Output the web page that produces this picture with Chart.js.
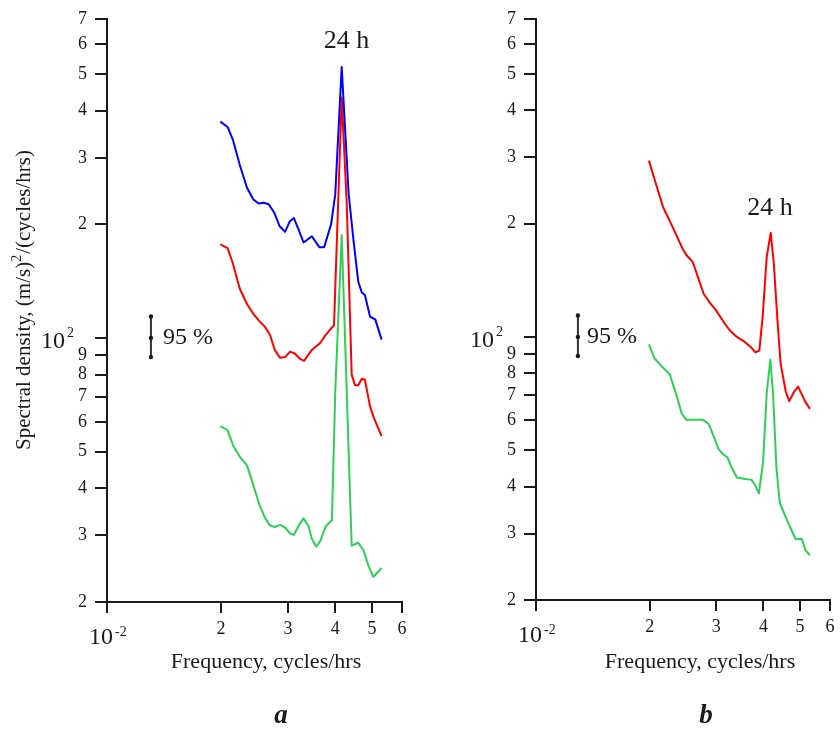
<!DOCTYPE html>
<html>
<head>
<meta charset="utf-8">
<script src="https://cdn.jsdelivr.net/npm/chart.js@4.4.1/dist/chart.umd.min.js"></script>
<style>
  body { margin: 0; background: #fff; }
  .panel { position: absolute; top: 0; }
</style>
</head>
<body>
<canvas id="panel-a" class="panel" width="420" height="730" style="left:0"></canvas>
<canvas id="panel-b" class="panel" width="420" height="730" style="left:420px"></canvas>
<script>
// tick values (log-log axes)
const xTicks = [0.01, 0.02, 0.03, 0.04, 0.05, 0.06]
const yTicks = [20, 30, 40, 50, 60, 70, 80, 90, 100, 200, 300, 400, 500, 600, 700]
const ciBar = [89, 100, 114] // 95 % bar: low, centre, high

// panel a
const freqBlueA = [0.0199, 0.0208, 0.0215, 0.0224, 0.0234, 0.0243, 0.0251, 0.0259, 0.0267, 0.0276, 0.0285, 0.0295, 0.0303, 0.0311, 0.0320, 0.0330, 0.0347, 0.0363, 0.0374, 0.0390, 0.0400, 0.0416, 0.0434, 0.0447, 0.0460, 0.0470, 0.0479, 0.0494, 0.0510, 0.0530]
const blueA = [374, 362, 334, 287, 250, 233, 227, 228, 226, 215, 198, 191, 203, 208, 194, 179, 186, 174, 174, 200, 240, 522, 240, 181, 141, 132, 130, 114, 112, 99]

const freqRedA = [0.0199, 0.0208, 0.0215, 0.0224, 0.0234, 0.0243, 0.0252, 0.0261, 0.0269, 0.0277, 0.0286, 0.0295, 0.0304, 0.0313, 0.0323, 0.0331, 0.0347, 0.0365, 0.0375, 0.0390, 0.0397, 0.0416, 0.0429, 0.0442, 0.0451, 0.0460, 0.0470, 0.0479, 0.0494, 0.0504, 0.0530]
const redA = [177, 173, 157, 135, 123, 116, 111, 107, 102, 93, 88.6, 89, 92, 91, 88, 87, 93, 97, 101, 106, 108, 433, 226, 80, 75, 75, 78, 77.5, 66, 62, 55]

const freqGreenA = [0.0199, 0.0208, 0.0215, 0.0224, 0.0234, 0.0243, 0.0252, 0.0261, 0.0269, 0.0277, 0.0286, 0.0295, 0.0304, 0.0311, 0.0320, 0.0330, 0.0340, 0.0347, 0.0356, 0.0365, 0.0378, 0.0392, 0.0400, 0.0416, 0.0442, 0.0460, 0.0475, 0.0489, 0.0504, 0.0530]
const greenA = [58.4, 57, 52, 48.5, 46, 40.9, 36.3, 33.4, 31.9, 31.6, 32, 31.5, 30.4, 30.1, 31.8, 33.3, 31.8, 29.4, 28, 29, 31.8, 32.9, 71.8, 187.5, 28.2, 28.7, 27.4, 25, 23.3, 24.6]

// panel b
const freqRedB = [0.0199, 0.0206, 0.0217, 0.0231, 0.0244, 0.0250, 0.0260, 0.0269, 0.0278, 0.0289, 0.0299, 0.0313, 0.0326, 0.0340, 0.0357, 0.0370, 0.0381, 0.0390, 0.0398, 0.0408, 0.0418, 0.0426, 0.0435, 0.0444, 0.0458, 0.0468, 0.0481, 0.0494, 0.0515, 0.0531]
const redB = [294, 262, 221, 194, 172, 165, 158, 143, 130, 123, 118, 110, 104, 100, 97, 94, 91, 92, 113, 163, 189, 157, 113, 85, 71.7, 67.5, 71.2, 73.8, 67.5, 64.4]

const freqGreenB = [0.0199, 0.0206, 0.0215, 0.0226, 0.0236, 0.0243, 0.0250, 0.0277, 0.0287, 0.0296, 0.0304, 0.0312, 0.0321, 0.0329, 0.0340, 0.0355, 0.0372, 0.0380, 0.0389, 0.0399, 0.0408, 0.0417, 0.0424, 0.0433, 0.0442, 0.0461, 0.0475, 0.0487, 0.0505, 0.0517, 0.0531]
const greenB = [95.5, 87.6, 83.6, 79.5, 69.5, 62.6, 60.2, 60.2, 58.6, 54.1, 50.4, 48.9, 47.9, 45.1, 42.3, 42, 41.7, 40.4, 38.4, 46.5, 70.9, 87, 70.9, 44.7, 36.2, 32.7, 30.6, 29, 29.1, 27.1, 26.3]

const serif = "'Liberation Serif', 'Times New Roman', serif"
const ink = "#1a1a1a"

function toPoints(freqs, values) {
    return freqs.map((f, i) => ({ x: f, y: values[i] }))
}

// draws "base" with a raised small "exp" after it, left edge at x
function drawPower(ctx, x, baseline, base, exp, baseSize, expSize, rise) {
    ctx.textAlign = "left"
    ctx.textBaseline = "alphabetic"
    ctx.font = `${baseSize}px ${serif}`
    ctx.fillText(base, x, baseline)
    const w = ctx.measureText(base).width
    ctx.font = `${expSize}px ${serif}`
    ctx.fillText(exp, x + w + 2, baseline - rise)
}

const notesPlugin = {
    id: "notes",
    afterDraw(chart, args, opts) {
        const { ctx, chartArea } = chart
        const xs = chart.scales.x
        const ys = chart.scales.y
        ctx.save()
        ctx.fillStyle = ink
        ctx.strokeStyle = "#333"

        // peak label
        ctx.font = `26px ${serif}`
        ctx.textAlign = "center"
        ctx.textBaseline = "middle"
        ctx.fillText("24 h", xs.getPixelForValue(opts.peakLabel[0]), ys.getPixelForValue(opts.peakLabel[1]))

        // 95 % confidence bar
        const bx = xs.getPixelForValue(opts.ciX)
        const [lo, mid, hi] = ciBar.map((v) => ys.getPixelForValue(v))
        ctx.lineWidth = 2
        ctx.beginPath()
        ctx.moveTo(bx, hi)
        ctx.lineTo(bx, lo)
        ctx.stroke()
        for (const py of [lo, mid, hi]) {
            ctx.beginPath()
            ctx.arc(bx, py, 2.2, 0, Math.PI * 2)
            ctx.fill()
        }
        ctx.font = `24px ${serif}`
        ctx.textAlign = "left"
        ctx.fillText("95 %", bx + opts.ciGap, mid)

        // decade labels 10^2 and 10^-2
        drawPower(ctx, chartArea.left - 66, ys.getPixelForValue(100) + 10, "10", "2", 24, 14, 11)
        drawPower(ctx, chartArea.left - 18, chartArea.bottom + 42, "10", "-2", 24, 14, 8)

        // x axis title
        ctx.font = `22px ${serif}`
        ctx.textAlign = "center"
        ctx.textBaseline = "alphabetic"
        ctx.fillText("Frequency, cycles/hrs", opts.xTitleX, 668)

        // panel letter
        ctx.font = `bold italic 27px ${serif}`
        ctx.fillText(opts.letter, opts.letterX, 723)

        // y axis title (panel a only)
        if (opts.yTitle) {
            ctx.translate(30, 300)
            ctx.rotate(-Math.PI / 2)
            const p1 = "Spectral density, (m/s)"
            const p2 = "/(cycles/hrs)"
            ctx.font = `21px ${serif}`
            const w1 = ctx.measureText(p1).width
            const w2 = ctx.measureText(p2).width
            ctx.font = `14px ${serif}`
            const ws = ctx.measureText("2").width + 1
            let x0 = -(w1 + ws + w2) / 2
            ctx.textAlign = "left"
            ctx.font = `21px ${serif}`
            ctx.fillText(p1, x0, 0)
            ctx.font = `14px ${serif}`
            ctx.fillText("2", x0 + w1, -9)
            ctx.font = `21px ${serif}`
            ctx.fillText(p2, x0 + w1 + ws, 0)
        }
        ctx.restore()
    },
}

function makePanel(canvasId, series, layout, notes) {
    return new Chart(document.getElementById(canvasId), {
        type: "line",
        data: {
            datasets: series.map((s) => ({
                data: toPoints(s.freq, s.values),
                borderColor: s.color,
                borderWidth: 2,
                borderJoinStyle: "round",
                pointRadius: 0,
                tension: 0,
                fill: false,
            })),
        },
        options: {
            responsive: false,
            animation: false,
            events: [],
            layout: { padding: { top: layout.top, right: layout.right, left: 0, bottom: 0 } },
            plugins: {
                legend: { display: false },
                tooltip: { enabled: false },
                notes: notes,
            },
            scales: {
                x: {
                    type: "logarithmic",
                    min: 0.01,
                    max: 0.06,
                    afterBuildTicks: (scale) => {
                        scale.ticks = xTicks.map((v) => ({ value: v }))
                    },
                    afterFit: (scale) => {
                        scale.height = layout.xHeight
                    },
                    ticks: {
                        autoSkip: false,
                        maxRotation: 0,
                        padding: 5,
                        color: ink,
                        font: { family: serif, size: 18 },
                        callback: (v) => (v === 0.01 ? "" : String(Math.round(v * 100))),
                    },
                    grid: { drawOnChartArea: false, drawTicks: true, tickLength: 11, color: ink, lineWidth: 2 },
                    border: { display: true, color: ink, width: 2 },
                },
                y: {
                    type: "logarithmic",
                    min: 20,
                    max: 700,
                    afterBuildTicks: (scale) => {
                        scale.ticks = yTicks.map((v) => ({ value: v }))
                    },
                    afterFit: (scale) => {
                        scale.width = layout.yWidth
                    },
                    ticks: {
                        autoSkip: false,
                        padding: 8,
                        color: ink,
                        font: { family: serif, size: 18 },
                        callback: (v) => (v === 100 ? "" : String(v < 100 ? v / 10 : v / 100)),
                    },
                    grid: { drawOnChartArea: false, drawTicks: true, tickLength: 12, color: ink, lineWidth: 2 },
                    border: { display: true, color: ink, width: 2 },
                },
            },
        },
        plugins: [notesPlugin],
    })
}

const blue = "rgb(0, 0, 255)"
const red = "rgb(255, 0, 0)"
const green = "rgb(45, 208, 85)"

makePanel(
    "panel-a",
    [
        { freq: freqBlueA, values: blueA, color: blue },
        { freq: freqRedA, values: redA, color: red },
        { freq: freqGreenA, values: greenA, color: green },
    ],
    { top: 13, right: 18, yWidth: 107, xHeight: 128 },
    { peakLabel: [0.0428, 610], ciX: 0.01306, ciGap: 12, xTitleX: 266, letter: "a", letterX: 281, yTitle: true }
)

makePanel(
    "panel-b",
    [
        { freq: freqRedB, values: redB, color: red },
        { freq: freqGreenB, values: greenB, color: green },
    ],
    { top: 11, right: 10, yWidth: 116, xHeight: 130 },
    { peakLabel: [0.0416, 220], ciX: 0.01291, ciGap: 9, xTitleX: 280, letter: "b", letterX: 286, yTitle: false }
)
</script>
</body>
</html>
